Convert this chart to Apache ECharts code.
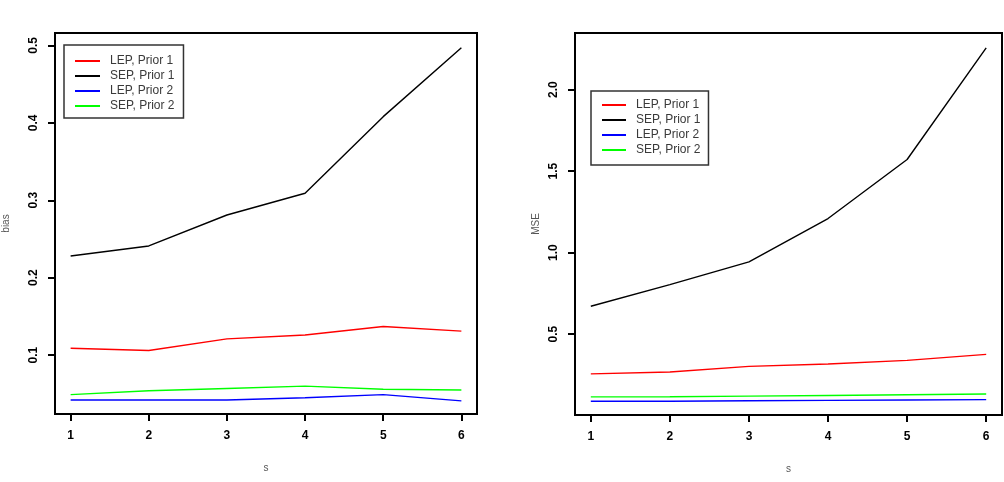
<!DOCTYPE html>
<html>
<head>
<meta charset="utf-8">
<script src="https://cdn.jsdelivr.net/npm/echarts@6/dist/echarts.min.js"></script>
<style>
html, body { margin: 0; padding: 0; background: #fff; }
#main { width: 1004px; height: 482px; }
</style>
</head>
<body>
<div id="main"></div>
<script>
var sValues = [1, 2, 3, 4, 5, 6];
var seriesNames = ['LEP, Prior 1', 'SEP, Prior 1', 'LEP, Prior 2', 'SEP, Prior 2'];
var seriesColors = ['#ff0000', '#000000', '#0000ff', '#00ff00'];

// left panel (bias)
var biasLep1 = [0.109, 0.106, 0.121, 0.126, 0.137, 0.131];
var biasSep1 = [0.228, 0.241, 0.281, 0.309, 0.408, 0.497];
var biasLep2 = [0.042, 0.042, 0.042, 0.045, 0.049, 0.041];
var biasSep2 = [0.049, 0.054, 0.057, 0.060, 0.056, 0.055];
var biasTicks = [0.1, 0.2, 0.3, 0.4, 0.5];

// right panel (MSE)
var mseLep1 = [0.256, 0.268, 0.302, 0.317, 0.339, 0.376];
var mseSep1 = [0.671, 0.804, 0.943, 1.209, 1.571, 2.256];
var mseLep2 = [0.088, 0.088, 0.091, 0.094, 0.096, 0.098];
var mseSep2 = [0.115, 0.116, 0.120, 0.124, 0.128, 0.133];
var mseTicks = [0.5, 1.0, 1.5, 2.0];

function pairs(vals) {
  return vals.map(function (v, i) { return [sValues[i], v]; });
}

var font = 'Liberation Sans, Arial, sans-serif';

function xAxisFor(idx) {
  return {
    gridIndex: idx, type: 'value', min: 0.8, max: 6.2,
    axisLine: { show: false },
    splitLine: { show: false },
    axisTick: { customValues: sValues, length: 7, lineStyle: { color: '#000', width: 2 } },
    axisLabel: { customValues: sValues, fontSize: 12, fontWeight: 'bold', color: '#000', fontFamily: font, margin: 16 },
    name: 's', nameLocation: 'middle', nameGap: 49,
    nameTextStyle: { fontSize: 10, color: '#555', fontFamily: font }
  };
}

function yAxisFor(idx, min, max, ticks, title, gap) {
  return {
    gridIndex: idx, type: 'value', min: min, max: max,
    axisLine: { show: false },
    splitLine: { show: false },
    axisTick: { customValues: ticks, length: 7, lineStyle: { color: '#000', width: 2 } },
    axisLabel: {
      customValues: ticks, rotate: 90, fontSize: 12, fontWeight: 'bold', color: '#000',
      fontFamily: font, margin: 15,
      formatter: function (v) { return v.toFixed(1); }
    },
    name: title, nameLocation: 'middle', nameGap: gap,
    nameTextStyle: { fontSize: 10, color: '#555', fontFamily: font }
  };
}

function legendFor(left, top, iconW, pad) {
  return {
    left: left, top: top, orient: 'vertical',
    data: seriesNames, selectedMode: false,
    icon: 'rect', itemWidth: iconW, itemHeight: 2, itemGap: 3,
    borderColor: '#333', borderWidth: 1.5, padding: pad,
    textStyle: { fontSize: 12, color: '#3a3a3a', fontFamily: font, lineHeight: 12, padding: [0, 0, 0, 5] }
  };
}

function lineSeries(name, color, idx, vals) {
  return {
    name: name, type: 'line', xAxisIndex: idx, yAxisIndex: idx,
    data: pairs(vals), showSymbol: false, color: color,
    lineStyle: { color: color, width: 1.4 }
  };
}

var biasData = [biasLep1, biasSep1, biasLep2, biasSep2];
var mseData = [mseLep1, mseSep1, mseLep2, mseSep2];
var series = [];
seriesNames.forEach(function (n, i) {
  series.push(lineSeries(n, seriesColors[i], 0, biasData[i]));
  series.push(lineSeries(n, seriesColors[i], 1, mseData[i]));
});

var option = {
  animation: false,
  backgroundColor: '#fff',
  grid: [
    { left: 50, top: 33, width: 427, height: 381, show: true, borderColor: '#000', borderWidth: 2 },
    { left: 575, top: 33, width: 427, height: 382, show: true, borderColor: '#000', borderWidth: 2 }
  ],
  xAxis: [xAxisFor(0), xAxisFor(1)],
  yAxis: [
    yAxisFor(0, 0.024, 0.516, biasTicks, 'bias', 44),
    yAxisFor(1, 0.004, 2.347, mseTicks, 'MSE', 34)
  ],
  legend: [
    legendFor(64, 45, 25, [10, 9, 6, 11]),
    legendFor(591, 91, 24, [8, 8, 9, 11])
  ],
  series: series
};

var myChart = echarts.init(document.getElementById('main'));
myChart.setOption(option);
</script>
</body>
</html>
